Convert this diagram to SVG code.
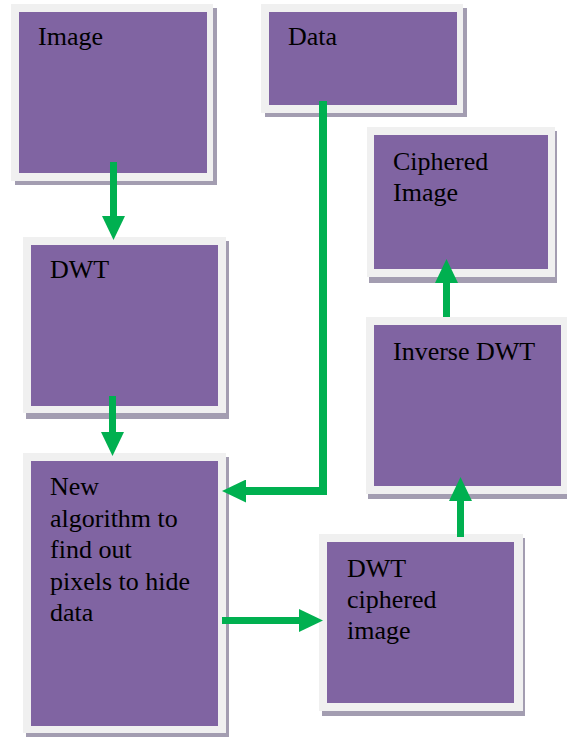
<svg xmlns="http://www.w3.org/2000/svg" width="567" height="738" viewBox="0 0 567 738">
<style>
.shadow{fill:#a39db1}
.frame{fill:#f0f0f0}
.box{fill:#8064a2}
.lbl{font-size:26px;fill:#000}
.conn{fill:none;stroke:#00b050;stroke-linejoin:miter}
</style>
<defs>
<marker id="ah" markerUnits="userSpaceOnUse" markerWidth="24" markerHeight="23" refX="0" refY="11.5" orient="auto" viewBox="0 0 24 23">
<path d="M0,0 L24,11.5 L0,23 Z" fill="#00b050"/>
</marker>
</defs>
<rect width="567" height="738" fill="#fff"/>
<g font-family="Liberation Serif, serif">
<g id="node-image">
<rect class="shadow" x="15" y="8" width="202" height="177"/>
<rect class="frame" x="11" y="4" width="202" height="177"/>
<rect class="box" x="19" y="12" width="188" height="161"/>
<text class="lbl" x="38" y="45">Image</text>
</g>
<g id="node-data">
<rect class="shadow" x="265" y="8" width="202" height="109"/>
<rect class="frame" x="261" y="4" width="202" height="109"/>
<rect class="box" x="269" y="12" width="188" height="93"/>
<text class="lbl" x="288" y="45">Data</text>
</g>
<g id="node-ciphered-image">
<rect class="shadow" x="369" y="131" width="188" height="152"/>
<rect class="frame" x="367" y="127" width="188" height="150"/>
<rect class="box" x="374" y="135" width="174" height="134"/>
<text class="lbl" x="393" y="170">Ciphered</text>
<text class="lbl" x="393" y="201">Image</text>
</g>
<g id="node-dwt">
<rect class="shadow" x="26" y="241" width="203" height="178"/>
<rect class="frame" x="23" y="237" width="203" height="176"/>
<rect class="box" x="31" y="245" width="187" height="161"/>
<text class="lbl" x="50" y="278">DWT</text>
</g>
<g id="node-inverse-dwt">
<rect class="shadow" x="368" y="321" width="201" height="178"/>
<rect class="frame" x="366" y="317" width="201" height="177"/>
<rect class="box" x="374" y="325" width="187" height="161"/>
<text class="lbl" x="393" y="360">Inverse DWT</text>
</g>
<g id="node-new-algorithm">
<rect class="shadow" x="26" y="457" width="203" height="280"/>
<rect class="frame" x="23" y="453" width="203" height="280"/>
<rect class="box" x="31" y="461" width="187" height="265"/>
<text class="lbl" x="50" y="495">New</text>
<text class="lbl" x="50" y="526.5">algorithm to</text>
<text class="lbl" x="50" y="558">find out</text>
<text class="lbl" x="50" y="589.5">pixels to hide</text>
<text class="lbl" x="50" y="621">data</text>
</g>
<g id="node-dwt-ciphered">
<rect class="shadow" x="322" y="538" width="203" height="178"/>
<rect class="frame" x="319" y="534" width="204" height="177"/>
<rect class="box" x="327" y="542" width="187" height="161"/>
<text class="lbl" x="347" y="577">DWT</text>
<text class="lbl" x="347" y="608">ciphered</text>
<text class="lbl" x="347" y="639">image</text>
</g>
</g>
<g id="connectors">
<path class="conn" stroke-width="7" d="M113.5,162 V216" marker-end="url(#ah)"/>
<path class="conn" stroke-width="7" d="M112.5,396 V432" marker-end="url(#ah)"/>
<path class="conn" stroke-width="8" d="M323,101 V491 H246" marker-end="url(#ah)"/>
<path class="conn" stroke-width="7" d="M222,620.5 H299" marker-end="url(#ah)"/>
<path class="conn" stroke-width="7" d="M460.5,537 V501" marker-end="url(#ah)"/>
<path class="conn" stroke-width="7" d="M446.5,317 V283" marker-end="url(#ah)"/>
</g>
</svg>
